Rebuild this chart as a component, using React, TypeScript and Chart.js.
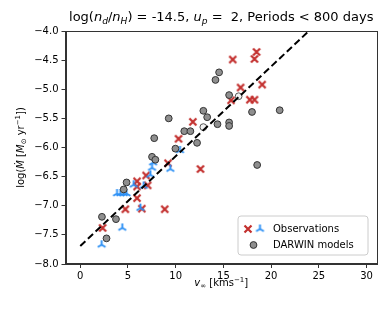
import React, { useEffect, useRef } from 'react';
import { Chart, registerables } from 'chart.js';
Chart.register(...registerables);

// ---- data ----
const obsRedX = [2.34, 4.72, 6.45, 8.85, 5.95, 5.95, 5.95, 7.06, 6.9, 9.2, 12.6, 10.3, 11.8, 15.98, 18.47, 18.26, 19.06, 16.8, 15.8, 17.77, 18.26];
const obsRedY = [-7.38, -7.06, -7.05, -7.06, -6.87, -6.58, -6.67, -6.65, -6.48, -6.27, -6.37, -5.85, -5.56, -4.49, -4.36, -4.48, -4.92, -4.97, -5.19, -5.18, -5.18];

const obsBlueX = [2.24, 4.4, 6.3, 3.85, 4.2, 4.55, 4.85, 5.6, 6.65, 7.35, 7.63, 7.52, 9.44, 10.45];
const obsBlueY = [-7.67, -7.38, -7.04, -6.79, -6.79, -6.79, -6.79, -6.64, -6.66, -6.47, -6.26, -6.35, -6.37, -6.05];

const darwinX = [2.27, 2.75, 3.74, 4.55, 4.85, 7.52, 7.87, 9.97, 12.24, 7.75, 10.9, 11.54, 9.27, 12.9, 13.3, 14.38, 15.6, 15.6, 15.6, 14.17, 14.55, 18.0, 20.9, 18.54];
const darwinY = [-7.19, -7.56, -7.23, -6.72, -6.6, -6.16, -6.21, -6.02, -5.92, -5.84, -5.72, -5.72, -5.5, -5.37, -5.48, -5.6, -5.57, -5.63, -5.1, -4.84, -4.71, -5.39, -5.36, -6.3];

const darwinOpenX = [12.9, 16.6];
const darwinOpenY = [-5.65, -5.12];

const fitX = [0, 30];
const fitY = [-7.69, -3.07];

const xTicks = [0, 5, 10, 15, 20, 25, 30];
const yTicks = [-8.0, -7.5, -7.0, -6.5, -6.0, -5.5, -5.0, -4.5, -4.0];

const legendLabels = ['Observations', 'DARWIN models'];

const RED = '#c3302e';
const BLUE = '#2a8ff5';
const FONT = '"DejaVu Sans", sans-serif';

type Seg = { t: string; it?: boolean; sub?: boolean; sup?: boolean };

function segFont(s: Seg, size: number) {
  const sz = s.sub || s.sup ? size * 0.7 : size;
  return `${s.it ? 'italic ' : ''}${sz}px ${FONT}`;
}

function drawRich(ctx: CanvasRenderingContext2D, segs: Seg[], x: number, y: number, size: number) {
  let total = 0;
  const widths = segs.map((s) => {
    ctx.font = segFont(s, size);
    const w = ctx.measureText(s.t).width;
    total += w;
    return w;
  });
  let cx = x - total / 2;
  ctx.textAlign = 'left';
  segs.forEach((s, i) => {
    ctx.font = segFont(s, size);
    const dy = s.sub ? size * 0.22 : s.sup ? -size * 0.4 : 0;
    ctx.fillText(s.t, cx, y + dy);
    cx += widths[i];
  });
}

function makeX() {
  const c = document.createElement('canvas');
  c.width = 10; c.height = 10;
  const g = c.getContext('2d')!;
  g.strokeStyle = RED; g.lineWidth = 2.2;
  g.beginPath();
  g.moveTo(1.5, 1.5); g.lineTo(8.5, 8.5);
  g.moveTo(8.5, 1.5); g.lineTo(1.5, 8.5);
  g.stroke();
  return c;
}

function makeTri() {
  const c = document.createElement('canvas');
  c.width = 11; c.height = 11;
  const g = c.getContext('2d')!;
  g.strokeStyle = BLUE; g.lineWidth = 1.9;
  const m = 5.5, r = 4.5;
  g.beginPath();
  g.moveTo(m, m); g.lineTo(m, m - r);
  g.moveTo(m, m); g.lineTo(m - r * 0.866, m + r * 0.5);
  g.moveTo(m, m); g.lineTo(m + r * 0.866, m + r * 0.5);
  g.stroke();
  return c;
}

const pts = (xs: number[], ys: number[]) => xs.map((x, i) => ({ x, y: ys[i] }));

export default function App() {
  const ref = useRef<HTMLCanvasElement>(null);
  useEffect(() => {
    const canvas = ref.current!;
    const xMark = makeX();
    const triMark = makeTri();

    const decor = {
      id: 'decor',
      afterDraw(chart: any) {
        const ctx: CanvasRenderingContext2D = chart.ctx;
        const a = chart.chartArea;
        ctx.save();
        // frame (all four spines)
        ctx.strokeStyle = '#333';
        ctx.lineWidth = 1;
        ctx.strokeRect(Math.round(a.left) + 0.5, Math.round(a.top) + 0.5, Math.round(a.right - a.left) - 1, Math.round(a.bottom - a.top) - 1);

        ctx.fillStyle = '#000';
        ctx.textBaseline = 'alphabetic';
        // title
        drawRich(ctx, [
          { t: 'log(' }, { t: 'n', it: true }, { t: 'd', it: true, sub: true }, { t: '/' },
          { t: 'n', it: true }, { t: 'H', it: true, sub: true }, { t: ') = -14.5, ' },
          { t: 'u', it: true }, { t: 'p', it: true, sub: true }, { t: ' =  2, Periods < 800 days' },
        ], (a.left + a.right) / 2, 21, 13);
        // x label
        drawRich(ctx, [
          { t: 'v', it: true }, { t: '\u221e', sub: true }, { t: ' [kms' }, { t: '\u22121', sup: true }, { t: ']' },
        ], (a.left + a.right) / 2, 286, 10);
        // y label
        ctx.save();
        ctx.translate(24, (a.top + a.bottom) / 2);
        ctx.rotate(-Math.PI / 2);
        drawRich(ctx, [
          { t: 'log(' }, { t: '\u1e40', it: true }, { t: ' [' }, { t: 'M', it: true }, { t: '\u2299', sub: true },
          { t: ' yr' }, { t: '\u22121', sup: true }, { t: '])' },
        ], 0, 0, 10);
        ctx.restore();

        // legend
        const lx = 238, ly = 216, lw = 130, lh = 39, rr = 3;
        ctx.beginPath();
        ctx.moveTo(lx + rr, ly);
        ctx.arcTo(lx + lw, ly, lx + lw, ly + lh, rr);
        ctx.arcTo(lx + lw, ly + lh, lx, ly + lh, rr);
        ctx.arcTo(lx, ly + lh, lx, ly, rr);
        ctx.arcTo(lx, ly, lx + lw, ly, rr);
        ctx.closePath();
        ctx.fillStyle = 'rgba(255,255,255,0.8)';
        ctx.fill();
        ctx.strokeStyle = '#cccccc';
        ctx.stroke();
        ctx.drawImage(xMark, 248 - 5, 229 - 5);
        ctx.drawImage(triMark, 260 - 5.5, 229 - 5.5);
        ctx.beginPath();
        ctx.arc(253.5, 245, 3.4, 0, Math.PI * 2);
        ctx.fillStyle = '#8f8f8f';
        ctx.fill();
        ctx.strokeStyle = '#333';
        ctx.stroke();
        ctx.fillStyle = '#000';
        ctx.font = `10px ${FONT}`;
        ctx.textAlign = 'left';
        ctx.textBaseline = 'middle';
        ctx.fillText(legendLabels[0], 273, 229);
        ctx.fillText(legendLabels[1], 273, 245);
        ctx.restore();
      },
    };

    const tickFont = { family: 'DejaVu Sans', size: 10 };
    const chart = new Chart(canvas, {
      type: 'scatter',
      data: {
        datasets: [
          {
            type: 'line',
            data: pts(fitX, fitY),
            showLine: true,
            borderColor: '#000',
            borderWidth: 2,
            borderDash: [7, 3.5],
            pointRadius: 0,
            fill: false,
            clip: 0,
          } as any,
          {
            data: pts(darwinX, darwinY),
            pointStyle: 'circle',
            pointRadius: 3.4,
            backgroundColor: '#8f8f8f',
            borderColor: '#333',
            borderWidth: 1,
          },
          {
            data: pts(darwinOpenX, darwinOpenY),
            pointStyle: 'circle',
            pointRadius: 3.4,
            backgroundColor: '#f2f2f2',
            borderColor: '#555',
            borderWidth: 1,
          },
          {
            data: pts(obsBlueX, obsBlueY),
            pointStyle: triMark as any,
            pointRadius: 5,
          },
          {
            data: pts(obsRedX, obsRedY),
            pointStyle: xMark as any,
            pointRadius: 5,
          },
        ],
      },
      options: {
        responsive: false,
        animation: false,
        devicePixelRatio: 1,
        layout: { padding: { top: 31, right: 13, bottom: 0, left: 0 } },
        plugins: { legend: { display: false }, tooltip: { enabled: false }, title: { display: false } },
        scales: {
          x: {
            type: 'linear',
            min: -1.55,
            max: 31.1,
            afterBuildTicks: (s: any) => { s.ticks = xTicks.map((v) => ({ value: v })); },
            afterFit: (s: any) => { s.height = 48; },
            ticks: { color: '#000', font: tickFont, padding: 2, maxRotation: 0, autoSkip: false, callback: (v: any) => String(v) },
            grid: { drawOnChartArea: false, drawTicks: true, tickLength: 4, color: '#333', lineWidth: 1 },
            border: { display: true, color: '#333', width: 1 },
          },
          y: {
            type: 'linear',
            min: -8,
            max: -4,
            afterBuildTicks: (s: any) => { s.ticks = yTicks.map((v) => ({ value: v })); },
            afterFit: (s: any) => { s.width = 65.5; },
            ticks: {
              color: '#000', font: tickFont, padding: 3, autoSkip: false,
              callback: (v: any) => (v < 0 ? '\u2212' : '') + Math.abs(Number(v)).toFixed(1),
            },
            grid: { drawOnChartArea: false, drawTicks: true, tickLength: 4, color: '#333', lineWidth: 1 },
            border: { display: true, color: '#333', width: 1 },
          },
        },
      },
      plugins: [decor],
    });
    return () => chart.destroy();
  }, []);

  return (
    <div style={{ position: 'fixed', left: 0, top: 0, width: 390, height: 312, background: '#fff' }}>
      <canvas ref={ref} width={390} height={312} style={{ display: 'block', width: 390, height: 312 }} />
    </div>
  );
}
